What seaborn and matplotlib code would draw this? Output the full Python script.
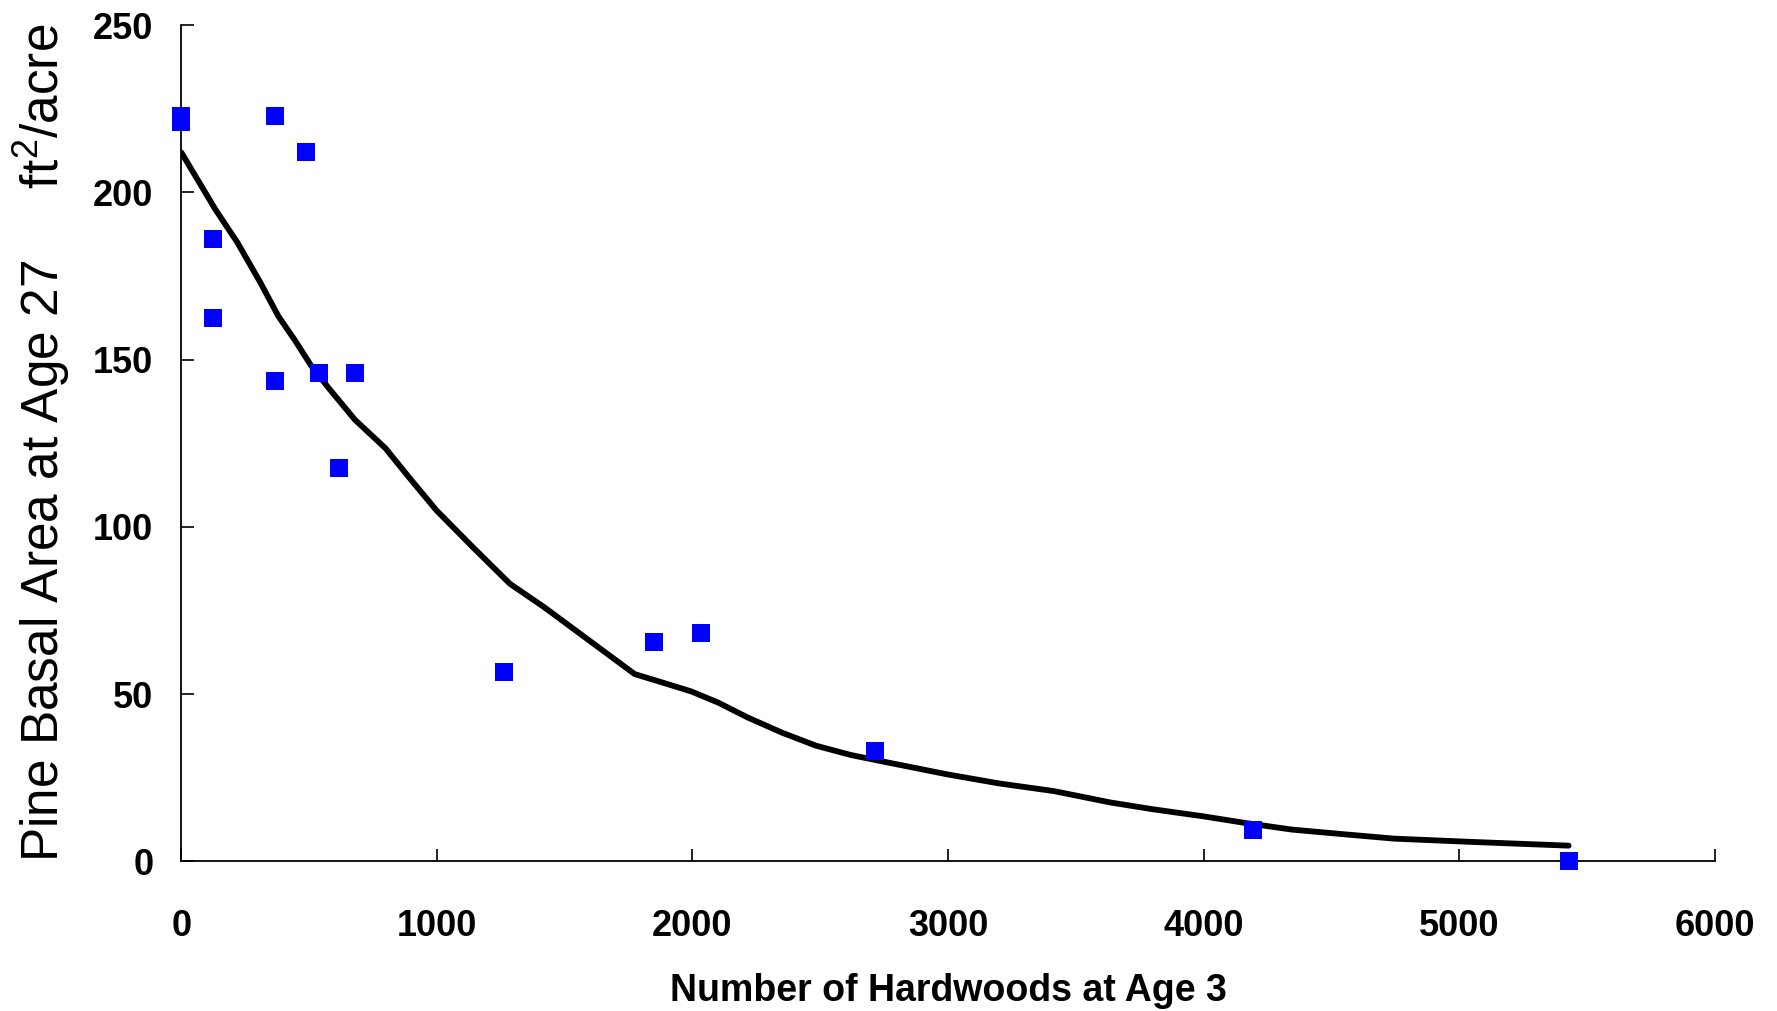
import numpy as np
import pandas as pd
import seaborn as sns
import matplotlib.pyplot as plt

# observed plots
hardwoods = [0, 0, 368, 490, 124, 124, 368, 540, 678, 616, 1264, 1849, 2035, 2714, 4195, 5428]
basal_area = [223, 221, 223, 212, 186, 162.5, 143.5, 146, 146, 117.5, 56.5, 65.7, 68.4, 32.9, 9.5, 0]

# fitted curve
fit_x = [0, 133, 220, 310, 380, 443, 510, 576, 680, 798, 900, 998, 1140, 1286, 1420,
         1597, 1774, 1890, 1996, 2100, 2217, 2350, 2483, 2620, 2749, 2998, 3200, 3415,
         3636, 3800, 3996, 4170, 4346, 4550, 4745, 5055, 5428]
fit_y = [212, 195, 185, 173, 163, 156, 148, 141.6, 132, 123.6, 114, 105, 94, 83, 76,
         66, 56, 53.3, 50.8, 47.5, 43, 38.5, 34.6, 31.8, 29.8, 26, 23.3, 21,
         17.6, 15.6, 13.5, 11.4, 9.5, 8.1, 6.8, 5.8, 4.7]

pts = pd.DataFrame({'x': hardwoods, 'y': basal_area})
fit = pd.DataFrame({'x': fit_x, 'y': fit_y})

sns.set_theme(style="ticks")
plt.rcParams['font.family'] = ['Liberation Sans', 'DejaVu Sans']
plt.rcParams['mathtext.default'] = 'regular'
plt.rcParams['text.color'] = 'black'
plt.rcParams['axes.labelcolor'] = 'black'
plt.rcParams['xtick.color'] = 'black'
plt.rcParams['ytick.color'] = 'black'

fig = plt.figure(figsize=(17.77, 10.11), dpi=100)
ax = fig.add_axes([0.102, 0.148, 0.863, 0.827])

sns.lineplot(data=fit, x='x', y='y', ax=ax, color='black', linewidth=4.2, zorder=2)
sns.scatterplot(data=pts, x='x', y='y', ax=ax, marker='s', s=165, color='#0000ff',
                edgecolor='#0000ff', linewidth=0, zorder=3, clip_on=False)

ax.set_xlim(0, 6000)
ax.set_ylim(0, 250)
ax.set_xticks(range(0, 6001, 1000))
ax.set_yticks(range(0, 251, 50))
sns.despine(ax=ax)
for s in ['left', 'bottom']:
    ax.spines[s].set_linewidth(1.3)
    ax.spines[s].set_color('black')
ax.tick_params(axis='both', direction='in', length=9, width=1.2, colors='black',
               labelsize=26)
ax.tick_params(axis='x', pad=34)
ax.tick_params(axis='y', pad=20)
for lab in ax.get_xticklabels() + ax.get_yticklabels():
    lab.set_fontweight('bold')

ax.set_xlabel('Number of Hardwoods at Age 3', fontsize=27, fontweight='bold', color='black')
ax.xaxis.set_label_coords(0.5, -0.133)
ax.set_ylabel('Pine Basal Area at Age 27     ft$^2$/acre', fontsize=37, color='black')
ax.yaxis.set_label_coords(-0.071, 0.5)

fig.savefig('out.png', dpi=100, facecolor='white')
